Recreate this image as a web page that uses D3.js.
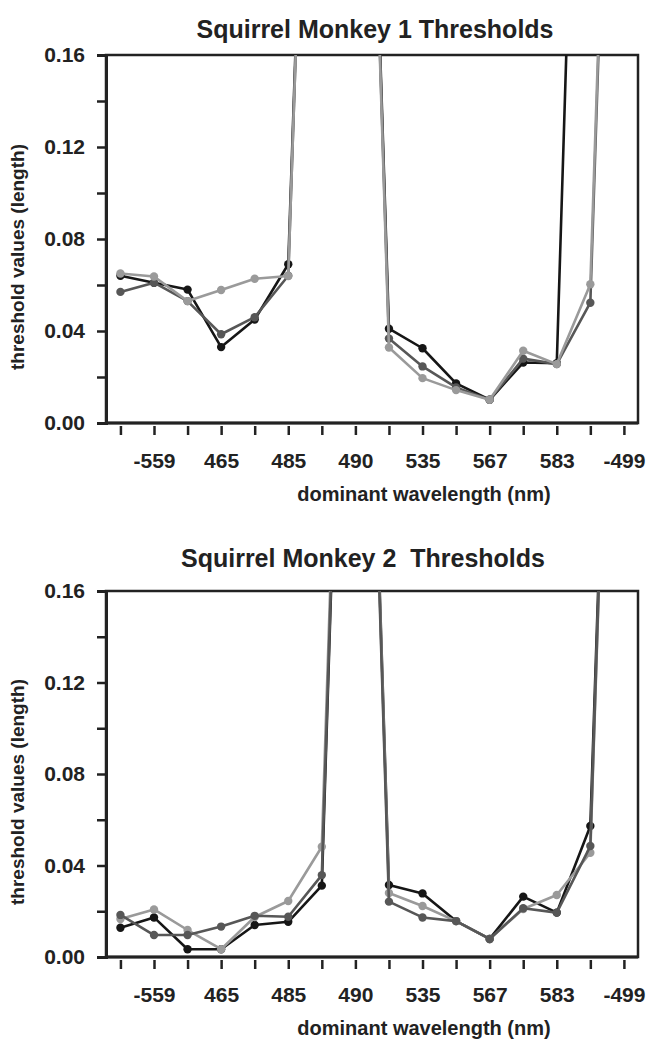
<!DOCTYPE html>
<html>
<head>
<meta charset="utf-8">
<script src="https://cdn.jsdelivr.net/npm/d3@7"></script>
<style>
    body { margin: 0; background: #fff; }
    text { font-family: "Liberation Sans", Arial, sans-serif; font-weight: bold; fill: #222; }
</style>
</head>
<body>
<svg id="chart" width="647" height="1040"></svg>
<script>
// x positions are just the order of the test colours, labels only on every other tick
const positions = d3.range(16)
const tickLabels = ["", "-559", "", "465", "", "485", "", "490", "", "535", "", "567", "", "583", "", "-499"]
const yTicks = [0, 0.02, 0.04, 0.06, 0.08, 0.10, 0.12, 0.14, 0.16]

// values off the top of the chart (threshold not reached) are plotted as 0.5 and clipped
const monkey1Black = [0.064, 0.061, 0.058, 0.033, 0.045, 0.069, 0.5, 0.5, 0.041, 0.0325, 0.0172, 0.0101, 0.0263, 0.026, 0.5, 0.5]
const monkey1Dark  = [0.057, 0.061, 0.053, 0.0386, 0.046, 0.064, 0.5, 0.5, 0.0367, 0.0246, 0.0155, 0.0101, 0.028, 0.0256, 0.0523, 0.5]
const monkey1Light = [0.065, 0.0637, 0.053, 0.0578, 0.0627, 0.0639, 0.5, 0.5, 0.0328, 0.0195, 0.0143, 0.0101, 0.0314, 0.0256, 0.0603, 0.5]

const monkey2Black = [0.0128, 0.0173, 0.0034, 0.0034, 0.014, 0.0154, 0.0312, 0.5, 0.0315, 0.0278, 0.0157, 0.0079, 0.0264, 0.0194, 0.0573, 0.5]
const monkey2Dark  = [0.0184, 0.0096, 0.0096, 0.0133, 0.018, 0.0176, 0.0358, 0.5, 0.0242, 0.0173, 0.0157, 0.0079, 0.0213, 0.0194, 0.0485, 0.5]
const monkey2Light = [0.0166, 0.0208, 0.0118, 0.0034, 0.0175, 0.0245, 0.0482, 0.5, 0.028, 0.0223, 0.0157, 0.0079, 0.021, 0.0271, 0.0456, 0.5]

const colors = { black: "#161616", dark: "#575757", light: "#9a9a9a" }

const svg = d3.select("#chart")

const left = 106, right = 638

const x = d3.scaleLinear()
    .domain([-0.43, 15.42])
    .range([left, right])

drawPanel({
    id: 1,
    title: "Squirrel Monkey 1 Thresholds",
    titleX: 375, titleY: 38,
    top: 55, bottom: 423,
    series: [
        { key: "black", values: monkey1Black },
        { key: "dark", values: monkey1Dark },
        { key: "light", values: monkey1Light }
    ]
})

drawPanel({
    id: 2,
    title: "Squirrel Monkey 2  Thresholds",
    titleX: 363, titleY: 567,
    top: 591, bottom: 957,
    series: [
        { key: "black", values: monkey2Black },
        { key: "light", values: monkey2Light },
        { key: "dark", values: monkey2Dark }
    ]
})

function drawPanel(p) {
    const y = d3.scaleLinear()
        .domain([0, 0.16])
        .range([p.bottom, p.top])

    const g = svg.append("g")

    g.append("text")
        .attr("x", p.titleX)
        .attr("y", p.titleY)
        .attr("text-anchor", "middle")
        .style("font-size", "25px")
        .style("white-space", "pre")
        .text(p.title)

    g.append("clipPath")
        .attr("id", "clip" + p.id)
        .append("rect")
        .attr("x", left)
        .attr("y", p.top)
        .attr("width", right - left)
        .attr("height", p.bottom - p.top)

    // frame (top + right)
    g.append("rect")
        .attr("x", left)
        .attr("y", p.top)
        .attr("width", right - left)
        .attr("height", p.bottom - p.top)
        .attr("fill", "none")
        .attr("stroke", "#222")
        .attr("stroke-width", 2.5)

    const yAxis = g.append("g")
        .attr("transform", `translate(${left},0)`)
        .call(d3.axisLeft(y)
            .tickValues(yTicks)
            .tickSize(9)
            .tickPadding(12)
            .tickFormat(d => Math.round(d * 100) % 4 === 0 ? d3.format(".2f")(d) : ""))
    yAxis.select(".domain").attr("stroke", "#222").attr("stroke-width", 3)
    yAxis.selectAll(".tick line").attr("stroke", "#222").attr("stroke-width", 2.5)
    yAxis.selectAll(".tick text").style("font-size", "21px").attr("fill", "#222")

    g.append("line")
        .attr("x1", left)
        .attr("x2", right)
        .attr("y1", p.bottom)
        .attr("y2", p.bottom)
        .attr("stroke", "#222")
        .attr("stroke-width", 3)

    const xAxis = g.append("g")
        .attr("transform", `translate(0,${p.bottom + 3})`)
        .call(d3.axisBottom(x)
            .tickValues(positions)
            .tickSize(9)
            .tickPadding(18)
            .tickFormat(i => tickLabels[i]))
    xAxis.select(".domain").remove()
    xAxis.selectAll(".tick line").attr("stroke", "#222").attr("stroke-width", 2.5)
    xAxis.selectAll(".tick text").style("font-size", "21px").attr("fill", "#222")

    g.append("text")
        .attr("x", 424)
        .attr("y", p.bottom + 78)
        .attr("text-anchor", "middle")
        .style("font-size", "20px")
        .text("dominant wavelength (nm)")

    g.append("text")
        .attr("transform", `translate(24,${(p.top + p.bottom) / 2 + 18}) rotate(-90)`)
        .attr("text-anchor", "middle")
        .style("font-size", "19px")
        .text("threshold values (length)")

    const line = d3.line()
        .x((d, i) => x(positions[i]))
        .y(d => y(d))

    const plot = g.append("g").attr("clip-path", `url(#clip${p.id})`)

    p.series.forEach(s => {
        plot.append("path")
            .attr("d", line(s.values))
            .attr("fill", "none")
            .attr("stroke", colors[s.key])
            .attr("stroke-width", 2.6)
            .attr("stroke-linejoin", "round")

        plot.selectAll(".dot-" + s.key)
            .data(s.values.map((v, i) => ({ v, i })).filter(d => d.v <= 0.16))
            .join("circle")
            .attr("class", "dot-" + s.key)
            .attr("cx", d => x(positions[d.i]))
            .attr("cy", d => y(d.v))
            .attr("r", 4.2)
            .attr("fill", colors[s.key])
    })
}
</script>
</body>
</html>
